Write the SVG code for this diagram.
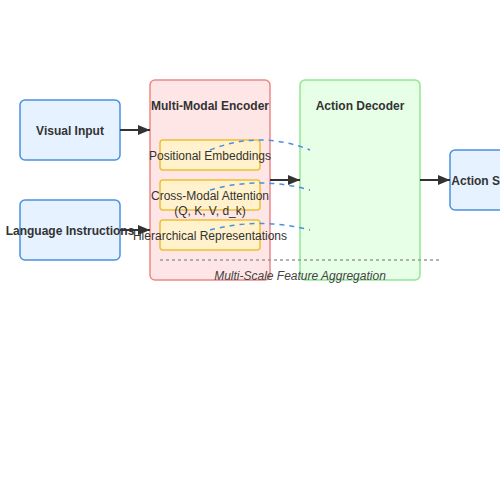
<svg xmlns="http://www.w3.org/2000/svg" width="500" height="500" viewBox="0 0 500 500">
<defs>
<marker id="arrow" viewBox="0 0 12 10" refX="12" refY="5" markerWidth="12" markerHeight="10" markerUnits="userSpaceOnUse" orient="auto">
<path d="M0,0 L12,5 L0,10 z" fill="#333"/>
</marker>
<style>
text{font-family:"Liberation Sans",Arial,sans-serif;font-size:12px;fill:#333;text-anchor:middle}
.b{font-weight:bold}
.io{fill:#e6f2ff;stroke:#4a90e2;stroke-width:1.5}
.enc{fill:#ffe6e6;stroke:#ee8888;stroke-width:1.5}
.dec{fill:#e6ffe6;stroke:#90e890;stroke-width:1.5}
.sub{fill:#fff2cc;stroke:#f0c030;stroke-width:1.5}
.conn{stroke:#333;stroke-width:2;fill:none}
.dash{stroke:#4a90e2;stroke-width:1.5;stroke-dasharray:5,5;fill:none}
.dot{stroke:#999;stroke-width:1.5;stroke-dasharray:3,3;fill:none}
</style>
</defs>
<rect width="500" height="500" fill="#fff"/>
<g id="visual-input">
<rect class="io" x="20" y="100" width="100" height="60" rx="5"/>
<text class="b" x="70" y="135">Visual Input</text>
</g>
<g id="language-instructions">
<rect class="io" x="20" y="200" width="100" height="60" rx="5"/>
<text class="b" x="70" y="235">Language Instructions</text>
</g>
<g id="encoder">
<rect class="enc" x="150" y="80" width="120" height="200" rx="5"/>
<text class="b" x="210" y="110">Multi-Modal Encoder</text>
</g>
<g id="decoder">
<rect class="dec" x="300" y="80" width="120" height="200" rx="5"/>
<text class="b" x="360" y="110">Action Decoder</text>
</g>
<g id="positional-embeddings">
<rect class="sub" x="160" y="140" width="100" height="30" rx="3"/>
<text x="210" y="160">Positional Embeddings</text>
</g>
<g id="cross-modal-attention">
<rect class="sub" x="160" y="180" width="100" height="30" rx="3"/>
<text x="210" y="200">Cross-Modal Attention</text>
<text x="210" y="215">(Q, K, V, d_k)</text>
</g>
<g id="hierarchical-representations">
<rect class="sub" x="160" y="220" width="100" height="30" rx="3"/>
<text x="210" y="240">Hierarchical Representations</text>
</g>
<g id="action-output">
<rect class="io" x="450" y="150" width="100" height="60" rx="5"/>
<text class="b" x="500" y="185">Action Sequence</text>
</g>
<g id="connectors">
<line class="conn" x1="120" y1="130" x2="150" y2="130" marker-end="url(#arrow)"/>
<line class="conn" x1="120" y1="230" x2="150" y2="230" marker-end="url(#arrow)"/>
<line class="conn" x1="270" y1="180" x2="300" y2="180" marker-end="url(#arrow)"/>
<line class="conn" x1="420" y1="180" x2="450" y2="180" marker-end="url(#arrow)"/>
<path class="dash" d="M210,150 Q260,130 310,150"/>
<path class="dash" d="M210,190 Q260,176 310,190"/>
<path class="dash" d="M210,230 Q260,217 310,230"/>
<line class="dot" x1="160" y1="260" x2="440" y2="260"/>
</g>
<text x="300" y="280" style="font-style:italic;fill:#444">Multi-Scale Feature Aggregation</text>
</svg>
